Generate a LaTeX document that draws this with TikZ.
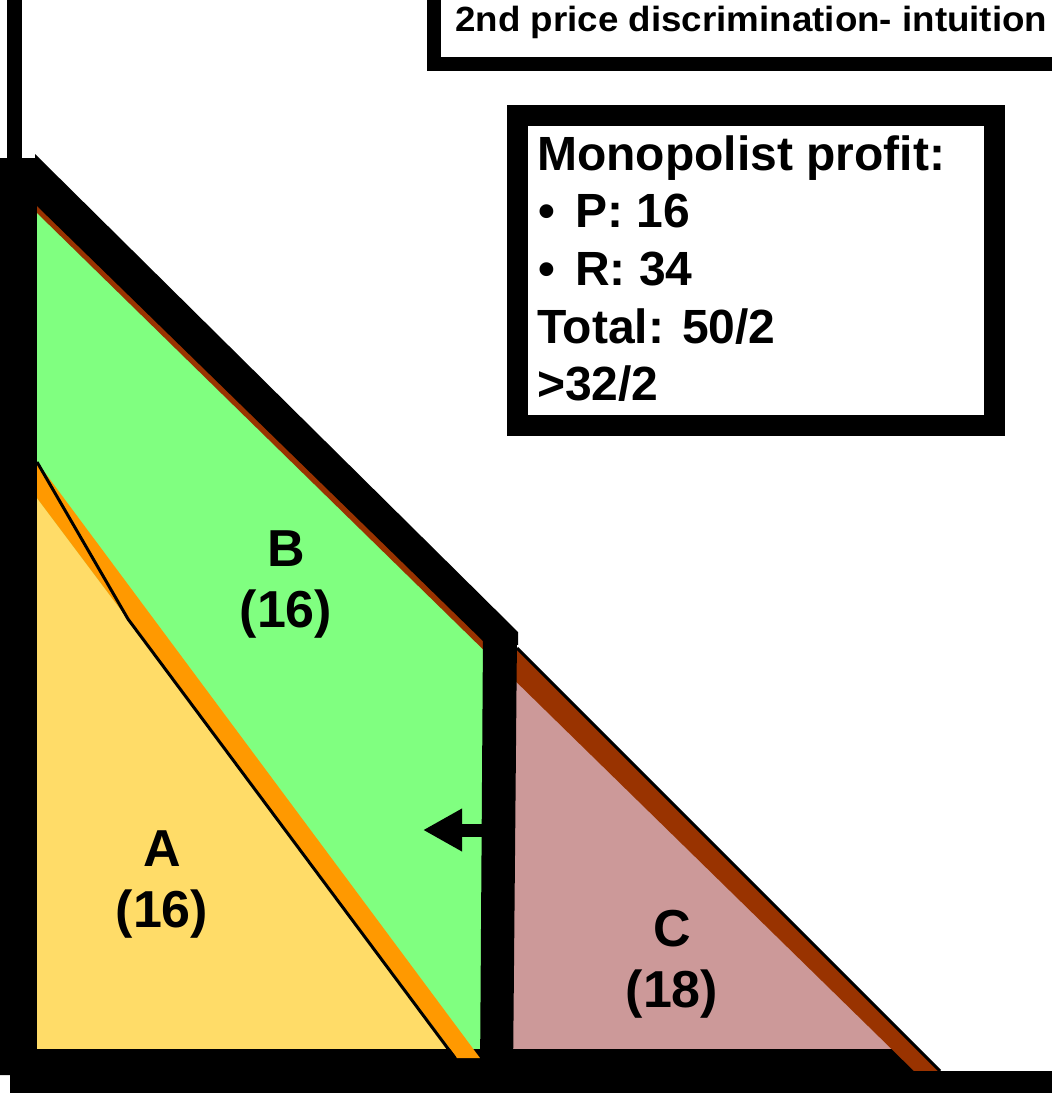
\documentclass[tikz,border=0pt]{standalone}
\usepackage{fontspec}
\setmainfont{Liberation Sans}
\usetikzlibrary{arrows.meta}
\definecolor{cgreen}{RGB}{128,255,128}
\definecolor{cyellow}{RGB}{255,220,104}
\definecolor{corange}{RGB}{255,153,0}
\definecolor{cbrown}{RGB}{153,51,0}
\definecolor{cpink}{RGB}{204,153,153}
\begin{document}
\begin{tikzpicture}[x=1pt,y=-1pt,
  lbl/.style={font=\fontsize{52}{61}\selectfont\bfseries, align=center, inner sep=0pt},
  boxtxt/.style={font=\fontsize{48}{56}\selectfont\bfseries, anchor=base west, inner sep=0pt},
  blackfill/.style={fill=black}]
\useasboundingbox (0,0) rectangle (1052,1093);
\clip (0,0) rectangle (1052,1093);
\fill[white] (0,0) rectangle (1052,1093);
% area fills
\fill[cgreen] (37,200) -- (500,660) -- (495,1060) -- (37,1060) -- cycle;
\fill[cpink] (505,660) -- (940,1071) -- (505,1071) -- cycle;
\fill[cyellow] (37,498) -- (37,1049) -- (450,1049) -- cycle;
% bottom border
\fill[blackfill] (0,1049) -- (905,1049) -- (925,1075) -- (0,1075) -- cycle;
% brown demand line
\fill[cbrown] (37,168) -- (940,1071) -- (914,1071) -- (37,213) -- cycle;
\draw[line width=3pt] (517,648) -- (940,1071);
% orange line
\fill[corange] (37,462) -- (480,1058) -- (457,1058) -- (37,498) -- cycle;
\draw[line width=3pt, line join=round] (37,462) -- (128,619) -- (455,1058);
% thick black outline
\fill[blackfill] (0,158) rectangle (37,1075);
\fill[blackfill] (35,154) -- (518,632) -- (518,645) -- (483,641) -- (37,206) -- cycle;
\fill[blackfill] (483,635) -- (517,635) -- (513,1075) -- (480,1075) -- cycle;
% axes
\fill[blackfill] (7,0) rectangle (22,160);
\fill[blackfill] (10,1071) rectangle (1052,1093);
% arrow
\coordinate (arrowstart) at (484,830);
\coordinate (arrowend) at (423,830);
\draw[line width=13pt, -{Triangle[length=39pt,width=40pt]}] (arrowstart) -- (arrowend);
% area labels
\node[lbl] (labB) at (286,584) {B\\(16)};
\node[lbl] (labA) at (162,884) {A\\(16)};
\node[lbl] (labC) at (672,964) {C\\(18)};
% title box
\draw[line width=14pt, fill=white] (434,-20) -- (434,64) -- (1070,64) -- (1070,-20) -- cycle;
\node[anchor=base west, inner sep=0pt, font=\fontsize{35}{40}\selectfont\bfseries] (title) at (455,31) {\scalebox{1.05}[1]{2nd price discrimination- intuition}};
% profit box
\draw[line width=21pt, fill=white] (517.5,115.5) rectangle (994.5,425.5);
\node[boxtxt] (l1) at (537,170) {Monopolist profit:};
\node[boxtxt] (b1) at (538,227) {•};
\node[boxtxt] (l2) at (575,227) {P: 16};
\node[boxtxt] (b2) at (538,285) {•};
\node[boxtxt] (l3) at (575,285) {R: 34};
\node[boxtxt] (l4) at (537,343) {Total: 50/2};
\node[boxtxt] (l5) at (537,400) {>32/2};
\end{tikzpicture}
\end{document}
